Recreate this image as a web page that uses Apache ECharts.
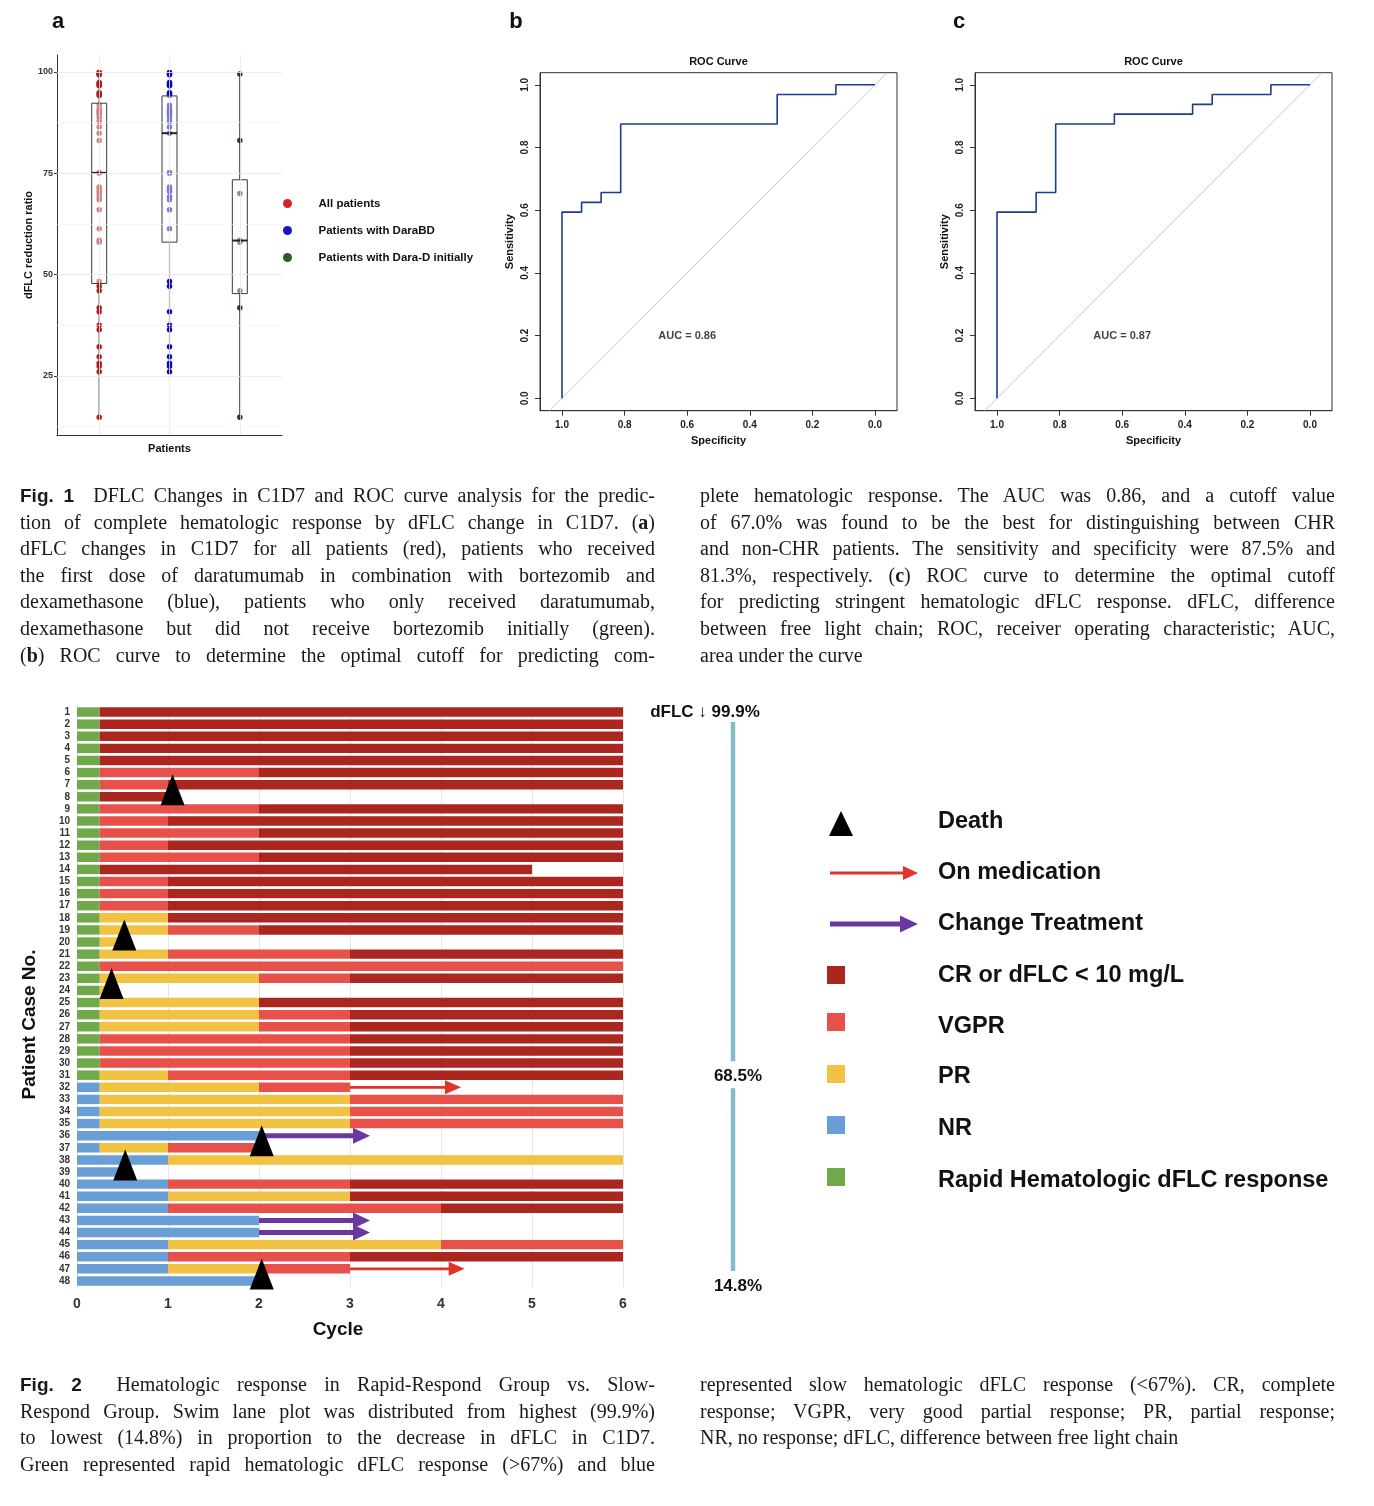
<!DOCTYPE html>
<html>
<head>
<meta charset="utf-8">
<script src="https://cdn.jsdelivr.net/npm/echarts@6/dist/echarts.min.js"></script>
<style>
html,body{margin:0;padding:0;background:#fff;}
#chart{position:absolute;left:0;top:0;width:1374px;height:1506px;}
.cap{position:absolute;width:635px;font-family:"Liberation Serif","Times New Roman",serif;font-size:20px;color:#1a1a1a;}
.ln{height:26.6px;line-height:26.6px;white-space:nowrap;text-align:justify;text-align-last:justify;}
.ln.last{text-align:left;text-align-last:left;}
.fig{font-family:"Liberation Sans",Arial,sans-serif;font-weight:bold;font-size:19px;}
</style>
</head>
<body>
<div id="chart"></div>

<div class="cap" style="left:20px;top:482px;">
<div class="ln"><span class="fig">Fig. 1</span>&nbsp; DFLC Changes in C1D7 and ROC curve analysis for the predic-</div>
<div class="ln">tion of complete hematologic response by dFLC change in C1D7. (<b>a</b>)</div>
<div class="ln">dFLC changes in C1D7 for all patients (red), patients who received</div>
<div class="ln">the first dose of daratumumab in combination with bortezomib and</div>
<div class="ln">dexamethasone (blue), patients who only received daratumumab,</div>
<div class="ln">dexamethasone but did not receive bortezomib initially (green).</div>
<div class="ln">(<b>b</b>) ROC curve to determine the optimal cutoff for predicting com-</div>
</div>
<div class="cap" style="left:700px;top:482px;">
<div class="ln">plete hematologic response. The AUC was 0.86, and a cutoff value</div>
<div class="ln">of 67.0% was found to be the best for distinguishing between CHR</div>
<div class="ln">and non-CHR patients. The sensitivity and specificity were 87.5% and</div>
<div class="ln">81.3%, respectively. (<b>c</b>) ROC curve to determine the optimal cutoff</div>
<div class="ln">for predicting stringent hematologic dFLC response. dFLC, difference</div>
<div class="ln">between free light chain; ROC, receiver operating characteristic; AUC,</div>
<div class="ln last">area under the curve</div>
</div>

<div class="cap" style="left:20px;top:1371px;">
<div class="ln"><span class="fig">Fig. 2</span>&nbsp; Hematologic response in Rapid-Respond Group vs. Slow-</div>
<div class="ln">Respond Group. Swim lane plot was distributed from highest (99.9%)</div>
<div class="ln">to lowest (14.8%) in proportion to the decrease in dFLC in C1D7.</div>
<div class="ln">Green represented rapid hematologic dFLC response (&gt;67%) and blue</div>
</div>
<div class="cap" style="left:700px;top:1371px;">
<div class="ln">represented slow hematologic dFLC response (&lt;67%). CR, complete</div>
<div class="ln">response; VGPR, very good partial response; PR, partial response;</div>
<div class="ln last">NR, no response; dFLC, difference between free light chain</div>
</div>

<script>
// ---------------- DATA ----------------
// Panel a: dFLC reduction ratio (%) in C1D7
const boxGroups = ['All patients', 'Patients with DaraBD', 'Patients with Dara-D initially'];
const dflcAll = [99.9, 99.8, 99.6, 99.5, 99.3, 97.4, 97.1, 96.8, 96.6, 94.9, 94.6, 94.2, 91.8, 90.9, 90.5, 90.1,
  89.8, 89.4, 88.7, 87.8, 86.4, 84.9, 83.1, 75.2, 75.0, 71.6, 71.2, 70.5, 70.0, 69.2, 68.5,
  66.0, 61.3, 58.5, 58.0, 48.3, 47.1, 46.0, 41.8, 40.8, 37.5, 36.4, 32.2, 29.7, 28.1, 27.4, 26.0, 14.8];
const dflcDaraBD = [99.9, 99.8, 99.6, 99.3, 97.4, 97.1, 96.8, 96.6, 94.9, 94.6, 94.2, 91.8, 90.9, 90.5, 90.1,
  89.8, 89.4, 88.7, 87.8, 86.4, 84.9, 75.2, 75.0, 71.6, 71.2, 70.5, 69.2, 68.5,
  66.0, 61.3, 48.3, 47.1, 40.8, 37.5, 36.4, 32.2, 29.7, 28.1, 27.4, 26.0];
const dflcDaraD = [99.5, 83.1, 70.0, 58.5, 58.0, 46.0, 41.8, 14.8];
// box statistics: [lower whisker, Q1, median, Q3, upper whisker]
const boxAll = [14.8, 47.8, 75.1, 92.3, 99.9];
const boxDaraBD = [26.0, 58.0, 84.9, 94.1, 99.9];
const boxDaraD = [14.8, 45.3, 58.4, 73.4, 99.5];
const boxTicks = [25, 50, 75, 100];
const boxMinorGrid = [12.5, 37.5, 62.5, 87.5];

// Panel b / c: ROC curves
const rocTicks = [0, 0.2, 0.4, 0.6, 0.8, 1.0];
const rocBSpecificity = [1, 1, 0.9375, 0.9375, 0.875, 0.875, 0.8125, 0.8125, 0.3125, 0.3125, 0.125, 0.125, 0];
const rocBSensitivity = [0, 0.59375, 0.59375, 0.625, 0.625, 0.65625, 0.65625, 0.875, 0.875, 0.96875, 0.96875, 1, 1];
const rocCSpecificity = [1, 1, 0.875, 0.875, 0.8125, 0.8125, 0.625, 0.625, 0.375, 0.375, 0.3125, 0.3125, 0.125, 0.125, 0];
const rocCSensitivity = [0, 0.59375, 0.59375, 0.65625, 0.65625, 0.875, 0.875, 0.90625, 0.90625, 0.9375, 0.9375, 0.96875, 0.96875, 1, 1];
const aucValues = [0.86, 0.87];
const refLineSpec = [1.0395, -0.0385];
const refLineSens = [-0.0395, 1.0385];

// Fig 2: swim lane
const patientRows = ['1','2','3','4','5','6','7','8','9','10','11','12','13','14','15','16','17','18','19','20',
  '21','22','23','24','25','26','27','28','29','30','31','32','33','34','35','36','37','38','39','40',
  '41','42','43','44','45','46','47','48'];
const cycleTicks = [0, 1, 2, 3, 4, 5, 6];
// segments: [patient row, start cycle, end cycle]
const rapidSegs = [[1,0,0.25],[2,0,0.25],[3,0,0.25],[4,0,0.25],[5,0,0.25],[6,0,0.25],[7,0,0.25],[8,0,0.25],
  [9,0,0.25],[10,0,0.25],[11,0,0.25],[12,0,0.25],[13,0,0.25],[14,0,0.25],[15,0,0.25],[16,0,0.25],
  [17,0,0.25],[18,0,0.25],[19,0,0.25],[20,0,0.25],[21,0,0.25],[22,0,0.25],[23,0,0.25],[24,0,0.25],
  [25,0,0.25],[26,0,0.25],[27,0,0.25],[28,0,0.25],[29,0,0.25],[30,0,0.25],[31,0,0.25]];
const nrSegs = [[32,0,0.25],[33,0,0.25],[34,0,0.25],[35,0,0.25],[36,0,2],[37,0,0.25],[38,0,1],[39,0,0.5],
  [40,0,1],[41,0,1],[42,0,1],[43,0,2],[44,0,2],[45,0,1],[46,0,1],[47,0,1],[48,0,2]];
const prSegs = [[18,0.25,1],[19,0.25,1],[20,0.25,0.5],[21,0.25,1],[23,0.25,2],[24,0.25,0.35],[25,0.25,2],
  [26,0.25,2],[27,0.25,2],[31,0.25,1],[32,0.25,2],[33,0.25,3],[34,0.25,3],[35,0.25,3],[37,0.25,1],
  [38,1,6],[41,1,3],[45,1,4],[47,1,2]];
const vgprSegs = [[6,0.25,2],[7,0.25,1],[9,0.25,2],[10,0.25,1],[11,0.25,2],[12,0.25,1],[13,0.25,2],
  [15,0.25,1],[16,0.25,1],[17,0.25,1],[19,1,2],[21,1,3],[22,0.25,6],[23,2,3],[26,2,3],[27,2,3],
  [28,0.25,3],[29,0.25,3],[30,0.25,3],[31,1,3],[32,2,3],[33,3,6],[34,3,6],[35,3,6],[37,1,2],
  [40,1,3],[42,1,4],[45,4,6],[46,1,3],[47,2,3]];
const crSegs = [[1,0.25,6],[2,0.25,6],[3,0.25,6],[4,0.25,6],[5,0.25,6],[6,2,6],[7,1,6],[8,0.25,1],
  [9,2,6],[10,1,6],[11,2,6],[12,1,6],[13,2,6],[14,0.25,5],[15,1,6],[16,1,6],[17,1,6],[18,1,6],
  [19,2,6],[21,3,6],[23,3,6],[25,2,6],[26,3,6],[27,3,6],[28,3,6],[29,3,6],[30,3,6],[31,3,6],
  [40,3,6],[41,3,6],[42,4,6],[46,3,6]];
const onMedicationArrows = [[32,3,4.22],[47,3,4.26]];
const changeTreatmentArrows = [[36,2,3.22],[43,2,3.22],[44,2,3.22]];
const deaths = [[8,1.05],[20,0.52],[24,0.38],[37,2.03],[39,0.53],[48,2.03]];
const dflcMarks = [['1','dFLC \u2193 99.9%'],['31','68.5%'],['48','14.8%']];
const statusNames = ['CR or dFLC < 10 mg/L', 'VGPR', 'PR', 'NR', 'Rapid Hematologic dFLC response'];

// ---------------- STYLE ----------------
const FONT = '"Liberation Sans", Arial, Helvetica, sans-serif';
const C = {cr:'#aa261f', vgpr:'#e8514a', pr:'#f2c243', nr:'#6a9ed6', rapid:'#70a94a',
  med:'#e2332b', chg:'#6a389e', death:'#000000', roc:'#1b3c97', diag:'#c9c9c9', teal:'#84bcc5'};

const chart = echarts.init(document.getElementById('chart'));

function boxWhisker(params, api) {
  const x = api.value(0);
  const lo = api.coord([x, api.value(1)]), q1 = api.coord([x, api.value(2)]);
  const q3 = api.coord([x, api.value(4)]), hi = api.coord([x, api.value(5)]);
  return {type:'group', children:[
    {type:'line', shape:{x1:lo[0], y1:lo[1], x2:q1[0], y2:q1[1]}, style:{stroke:'#2a2a2a', lineWidth:1.1}},
    {type:'line', shape:{x1:q3[0], y1:q3[1], x2:hi[0], y2:hi[1]}, style:{stroke:'#2a2a2a', lineWidth:1.1}}
  ]};
}
function boxBody(params, api) {
  const x = api.value(0);
  const q1 = api.coord([x, api.value(2)]), md = api.coord([x, api.value(3)]), q3 = api.coord([x, api.value(4)]);
  const hw = 7.5;
  return {type:'group', children:[
    {type:'rect', shape:{x:q3[0]-hw, y:q3[1], width:2*hw, height:q1[1]-q3[1]},
      style:{fill:'rgba(255,255,255,0.45)', stroke:'#3a3a3a', lineWidth:1}},
    {type:'line', shape:{x1:md[0]-hw, y1:md[1], x2:md[0]+hw, y2:md[1]}, style:{stroke:'#222', lineWidth:2}}
  ]};
}
function barItem(params, api) {
  const p0 = api.coord([api.value(0), api.value(2)]);
  const p1 = api.coord([api.value(1), api.value(2)]);
  const h = api.size([0, 1])[1] * 0.78;
  return {type:'rect', shape:{x:p0[0], y:p0[1]-h/2, width:p1[0]-p0[0], height:h}, style:{fill:api.visual('color')}};
}
function arrowItem(shaftW, headW, headL) {
  return function (params, api) {
    const p0 = api.coord([api.value(0), api.value(2)]);
    const p1 = api.coord([api.value(1), api.value(2)]);
    const c = api.visual('color');
    return {type:'group', children:[
      {type:'rect', shape:{x:p0[0], y:p0[1]-shaftW/2, width:p1[0]-headL-p0[0]+1, height:shaftW}, style:{fill:c}},
      {type:'polygon', shape:{points:[[p1[0]-headL, p0[1]-headW/2],[p1[0], p0[1]],[p1[0]-headL, p0[1]+headW/2]]}, style:{fill:c}}
    ]};
  };
}
const segData = segs => segs.map(s => [s[1], s[2], String(s[0])]);

function rocX(gi) {
  return {type:'value', gridIndex:gi, inverse:true, min:-0.0703, max:1.0703,
    name:'Specificity', nameLocation:'middle', nameGap:25,
    nameTextStyle:{fontSize:11, fontWeight:'bold', color:'#111'},
    axisLine:{show:true, onZero:false, lineStyle:{color:'#333'}},
    axisTick:{show:true, length:5, customValues:rocTicks, lineStyle:{color:'#333'}},
    axisLabel:{customValues:rocTicks, formatter:v => Number(v).toFixed(1), fontSize:10, fontWeight:'bold', color:'#222', margin:10},
    splitLine:{show:false}};
}
function rocY(gi) {
  return {type:'value', gridIndex:gi, min:-0.0395, max:1.0385,
    name:'Sensitivity', nameLocation:'middle', nameGap:25,
    nameTextStyle:{fontSize:11, fontWeight:'bold', color:'#111'},
    axisLine:{show:true, onZero:false, lineStyle:{color:'#333'}},
    axisTick:{show:true, length:5, customValues:rocTicks, lineStyle:{color:'#333'}},
    axisLabel:{customValues:rocTicks, rotate:90, formatter:v => Number(v).toFixed(1), fontSize:10, fontWeight:'bold', color:'#222', margin:10},
    splitLine:{show:false}};
}
function rocSeries(idx, spec, sens, auc) {
  return [
    {type:'line', name:'reference', xAxisIndex:idx, yAxisIndex:idx, silent:true, symbol:'none', z:2,
      data: refLineSpec.map((s, i) => [s, refLineSens[i]]), lineStyle:{color:C.diag, width:1}},
    {type:'line', name:'ROC', xAxisIndex:idx, yAxisIndex:idx, symbol:'none', z:3,
      data: spec.map((s, i) => [s, sens[i]]), lineStyle:{color:C.roc, width:1.6}},
    {type:'scatter', name:'AUC', xAxisIndex:idx, yAxisIndex:idx, silent:true, symbolSize:1, z:4,
      data:[[0.6, 0.2]], itemStyle:{color:'rgba(0,0,0,0)'},
      label:{show:true, position:'inside', formatter:'AUC = ' + auc.toFixed(2), fontSize:11, fontWeight:'bold', color:'#111'}}
  ];
}

const gridLineStyleMajor = {color:'#e9e9e9', width:0.8, type:'solid'};
const gridLineStyleMinor = {color:'#f3f3f3', width:0.6, type:'solid'};
const pointStyle = color => ({color:color, opacity:1, borderWidth:0});

const option = {
  animation:false,
  textStyle:{fontFamily:FONT},
  legend:{
    orient:'vertical', left:283, top:197, padding:0, itemWidth:52, itemHeight:9, itemGap:14,
    icon:'circle', selectedMode:false,
    textStyle:{fontSize:11.5, fontWeight:'bold', color:'#111', lineHeight:13},
    data:[{name:boxGroups[0], itemStyle:{color:'#d32424'}},
          {name:boxGroups[1], itemStyle:{color:'#1414cc'}},
          {name:boxGroups[2], itemStyle:{color:'#2b5a2b'}}]
  },
  grid:[
    {left:57, top:55, width:225, height:380},
    {left:540, top:72.7, width:357, height:338, show:true, borderColor:'#333', borderWidth:1, backgroundColor:'transparent'},
    {left:975, top:72.7, width:357, height:338, show:true, borderColor:'#333', borderWidth:1, backgroundColor:'transparent'},
    {left:77, top:706, width:546, height:581}
  ],
  xAxis:[
    {type:'value', gridIndex:0, min:0.4, max:3.6,
      axisLine:{show:true, onZero:false, lineStyle:{color:'#333'}}, axisTick:{show:false}, axisLabel:{show:false},
      splitLine:{show:false}, name:'Patients', nameLocation:'middle', nameGap:8,
      nameTextStyle:{fontSize:11, fontWeight:'bold', color:'#111'}},
    rocX(1), rocX(2),
    {type:'value', gridIndex:3, min:0, max:6, interval:1,
      axisLine:{show:false, onZero:false}, axisTick:{show:false},
      axisLabel:{fontSize:14, fontWeight:'bold', color:'#333', margin:10},
      splitLine:{show:true, lineStyle:{color:'#e6e6e6', width:1}},
      name:'Cycle', nameLocation:'middle', nameGap:33,
      nameTextStyle:{fontSize:19, fontWeight:'bold', color:'#111', padding:[0,24,0,0]}}
  ],
  yAxis:[
    {type:'value', gridIndex:0, min:10.4, max:104.2,
      axisLine:{show:true, onZero:false, lineStyle:{color:'#333'}},
      axisTick:{show:true, length:3, customValues:boxTicks, lineStyle:{color:'#333'}},
      axisLabel:{customValues:boxTicks, fontSize:9, fontWeight:'bold', color:'#333', margin:4},
      splitLine:{show:false}, name:'dFLC reduction ratio', nameLocation:'middle', nameGap:21,
      nameTextStyle:{fontSize:11, fontWeight:'bold', color:'#111'}},
    rocY(1), rocY(2),
    {type:'category', gridIndex:3, data:patientRows, inverse:true,
      axisLine:{show:false}, axisTick:{show:false},
      axisLabel:{interval:0, fontSize:10, fontWeight:'bold', color:'#333', margin:7},
      splitLine:{show:false},
      name:'Patient Case No.', nameLocation:'middle', nameGap:38,
      nameTextStyle:{fontSize:19, fontWeight:'bold', color:'#111', padding:[0,56,0,0]}}
  ],
  series:[
    // panel a background grid lines
    {type:'line', name:'grid-a', xAxisIndex:0, yAxisIndex:0, data:[], silent:true, z:0,
      markLine:{silent:true, symbol:'none', label:{show:false}, animation:false,
        data:[].concat(
          boxTicks.map(v => ({yAxis:v, lineStyle:gridLineStyleMajor})),
          boxMinorGrid.map(v => ({yAxis:v, lineStyle:gridLineStyleMinor})),
          [1,2,3].map(v => ({xAxis:v, lineStyle:gridLineStyleMajor}))
        )}},
    {type:'custom', name:'whiskers', xAxisIndex:0, yAxisIndex:0, z:1, silent:true,
      renderItem:boxWhisker, encode:{x:0, y:[1,2,3,4,5]},
      data:[[1].concat(boxAll), [2].concat(boxDaraBD), [3].concat(boxDaraD)]},
    {type:'scatter', name:boxGroups[0], xAxisIndex:0, yAxisIndex:0, z:2, symbol:'circle', symbolSize:5.5,
      itemStyle:pointStyle('#a81d1d'), data:dflcAll.map(v => [1, v])},
    {type:'scatter', name:boxGroups[1], xAxisIndex:0, yAxisIndex:0, z:2, symbol:'circle', symbolSize:5.5,
      itemStyle:pointStyle('#0b0bb0'), data:dflcDaraBD.map(v => [2, v])},
    {type:'scatter', name:boxGroups[2], xAxisIndex:0, yAxisIndex:0, z:2, symbol:'circle', symbolSize:5.5,
      itemStyle:pointStyle('#1d3d1d'), data:dflcDaraD.map(v => [3, v])},
    {type:'custom', name:'boxes', xAxisIndex:0, yAxisIndex:0, z:3, silent:true,
      renderItem:boxBody, encode:{x:0, y:[1,2,3,4,5]},
      data:[[1].concat(boxAll), [2].concat(boxDaraBD), [3].concat(boxDaraD)]},
    ...rocSeries(1, rocBSpecificity, rocBSensitivity, aucValues[0]),
    ...rocSeries(2, rocCSpecificity, rocCSensitivity, aucValues[1]),
    // swim lane
    {type:'custom', name:statusNames[4], xAxisIndex:3, yAxisIndex:3, renderItem:barItem, z:2,
      itemStyle:{color:C.rapid}, encode:{x:[0,1], y:2}, data:segData(rapidSegs)},
    {type:'custom', name:statusNames[3], xAxisIndex:3, yAxisIndex:3, renderItem:barItem, z:2,
      itemStyle:{color:C.nr}, encode:{x:[0,1], y:2}, data:segData(nrSegs)},
    {type:'custom', name:statusNames[2], xAxisIndex:3, yAxisIndex:3, renderItem:barItem, z:2,
      itemStyle:{color:C.pr}, encode:{x:[0,1], y:2}, data:segData(prSegs)},
    {type:'custom', name:statusNames[1], xAxisIndex:3, yAxisIndex:3, renderItem:barItem, z:2,
      itemStyle:{color:C.vgpr}, encode:{x:[0,1], y:2}, data:segData(vgprSegs)},
    {type:'custom', name:statusNames[0], xAxisIndex:3, yAxisIndex:3, renderItem:barItem, z:2,
      itemStyle:{color:C.cr}, encode:{x:[0,1], y:2}, data:segData(crSegs)},
    {type:'custom', name:'On medication', xAxisIndex:3, yAxisIndex:3, renderItem:arrowItem(2.8, 14, 16), z:5,
      itemStyle:{color:C.med}, encode:{x:[0,1], y:2}, data:segData(onMedicationArrows)},
    {type:'custom', name:'Change Treatment', xAxisIndex:3, yAxisIndex:3, renderItem:arrowItem(5, 16, 17), z:5,
      itemStyle:{color:C.chg}, encode:{x:[0,1], y:2}, data:segData(changeTreatmentArrows)},
    {type:'scatter', name:'Death', xAxisIndex:3, yAxisIndex:3, z:10, symbol:'triangle',
      symbolSize:[24, 31], symbolOffset:[0, -7], itemStyle:{color:C.death, opacity:1, borderWidth:0},
      data:deaths.map(d => [d[1], String(d[0])])}
  ]
};
chart.setOption(option);

// -------- second pass: annotations placed through the axes --------
const txt = (text, x, y, size, align, extra) => Object.assign({
  type:'text', x:x, y:y, silent:true,
  style:{text:text, font:'bold ' + size + 'px ' + FONT, fill:'#111',
    textAlign:align || 'left', align:align || 'left', textVerticalAlign:'middle', verticalAlign:'middle'}
}, extra || {});

const rowY = r => chart.convertToPixel({yAxisIndex:3}, r);
const gfx = [];
// panel letters and ROC titles
gfx.push(txt('a', 58, 22, 22, 'center'));
gfx.push(txt('b', 516, 22, 22, 'center'));
gfx.push(txt('c', 959, 22, 22, 'center'));
gfx.push(txt('ROC Curve', 718.5, 62, 11, 'center'));
gfx.push(txt('ROC Curve', 1153.5, 62, 11, 'center'));

// dFLC scale beside the swim lane
const yTop = rowY(dflcMarks[0][0]), yMid = rowY(dflcMarks[1][0]), yBot = rowY(dflcMarks[2][0]);
gfx.push(txt(dflcMarks[0][1], 705, yTop, 17, 'center'));
gfx.push(txt(dflcMarks[1][1], 738, yMid + 1, 17, 'center'));
gfx.push(txt(dflcMarks[2][1], 738, yBot + 5, 17, 'center'));
gfx.push({type:'line', silent:true, shape:{x1:733, y1:yTop + 10, x2:733, y2:yMid - 14}, style:{stroke:C.teal, lineWidth:4.5}});
gfx.push({type:'line', silent:true, shape:{x1:733, y1:yMid + 13, x2:733, y2:yBot - 10}, style:{stroke:C.teal, lineWidth:4.5}});

// Fig 2 legend
const legX = 938;
gfx.push({type:'polygon', silent:true, shape:{points:[[829,836],[853,836],[841,811]]}, style:{fill:C.death}});
gfx.push(txt('Death', legX, 822, 23.5));
gfx.push({type:'rect', silent:true, shape:{x:830, y:871.6, width:75, height:2.8}, style:{fill:C.med}});
gfx.push({type:'polygon', silent:true, shape:{points:[[903,866],[918,873],[903,880]]}, style:{fill:C.med}});
gfx.push(txt('On medication', legX, 873, 23.5));
gfx.push({type:'rect', silent:true, shape:{x:830, y:921.5, width:72, height:5}, style:{fill:C.chg}});
gfx.push({type:'polygon', silent:true, shape:{points:[[900,915.5],[918,924],[900,932.5]]}, style:{fill:C.chg}});
gfx.push(txt('Change Treatment', legX, 924, 23.5));
const legSquares = [[C.cr, 975, 976], [C.vgpr, 1022, 1027], [C.pr, 1074, 1077], [C.nr, 1125, 1129], [C.rapid, 1177, 1181]];
legSquares.forEach((s, i) => {
  gfx.push({type:'rect', silent:true, shape:{x:827, y:s[1]-9, width:18, height:18}, style:{fill:s[0]}});
  gfx.push(txt(statusNames[i], legX, s[2], 23.5));
});

chart.setOption({graphic:{elements:gfx}});
</script>
</body>
</html>
